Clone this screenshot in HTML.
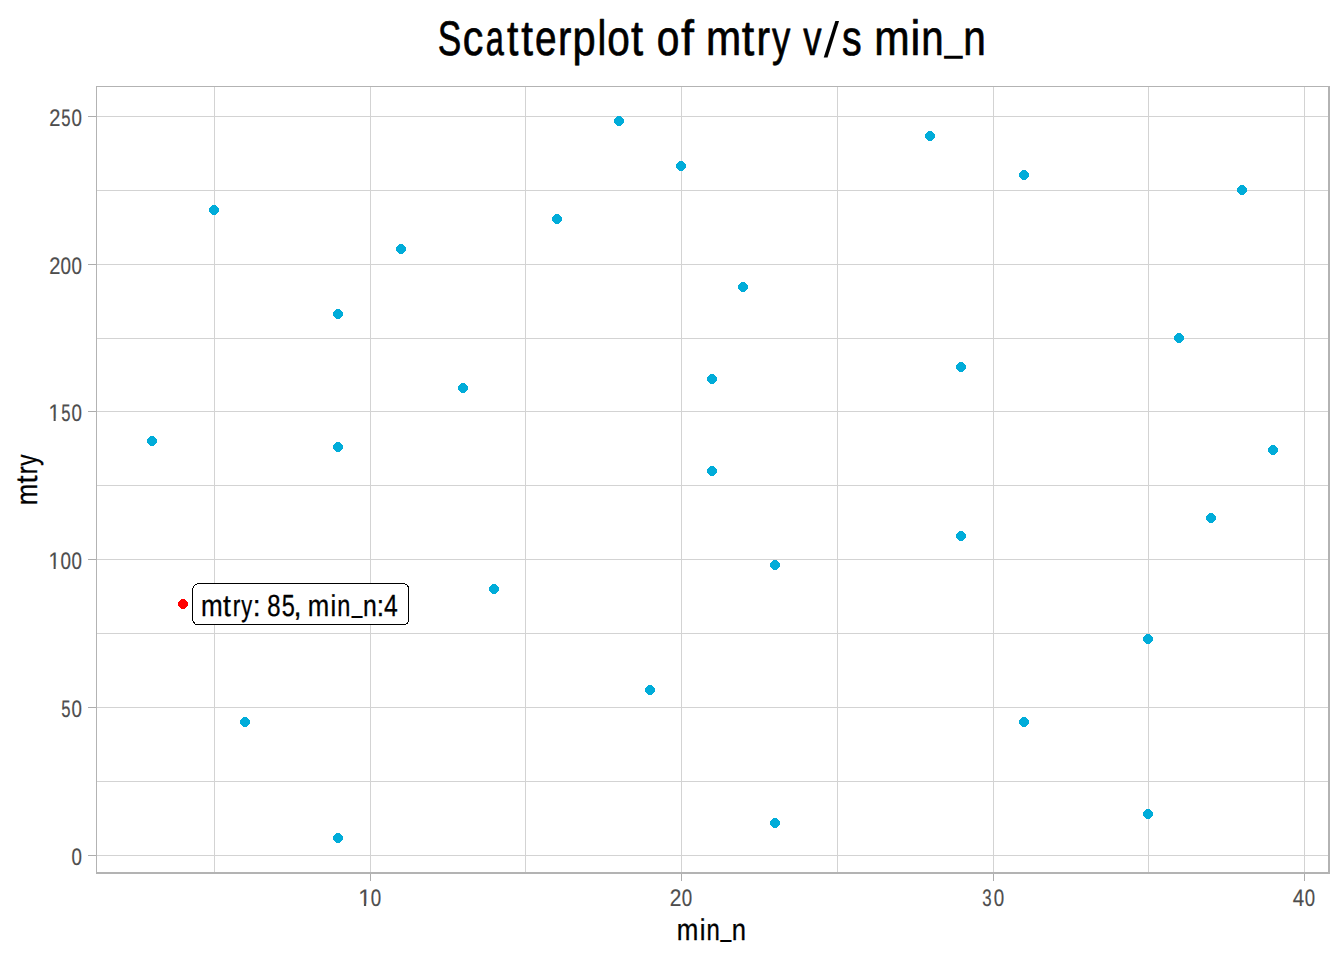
<!DOCTYPE html>
<html><head><meta charset="utf-8"><title>Scatterplot of mtry v/s min_n</title>
<style>
html,body{margin:0;padding:0;background:#fff;}
body{width:1344px;height:960px;overflow:hidden;}
svg{display:block;}
text{font-family:"Liberation Sans",sans-serif;text-rendering:geometricPrecision;}
</style></head><body>
<svg width="1344" height="960" viewBox="0 0 1344 960">
<rect width="1344" height="960" fill="#ffffff"/>
<!-- panel grid -->
<g fill="#d3d3d3" shape-rendering="crispEdges">
<rect x="97" y="116" width="1231" height="1"/>
<rect x="97" y="190" width="1231" height="1"/>
<rect x="97" y="264" width="1231" height="1"/>
<rect x="97" y="338" width="1231" height="1"/>
<rect x="97" y="411" width="1231" height="1"/>
<rect x="97" y="485" width="1231" height="1"/>
<rect x="97" y="559" width="1231" height="1"/>
<rect x="97" y="633" width="1231" height="1"/>
<rect x="97" y="707" width="1231" height="1"/>
<rect x="97" y="781" width="1231" height="1"/>
<rect x="97" y="855" width="1231" height="1"/>
<rect x="214" y="87" width="1" height="785"/>
<rect x="370" y="87" width="1" height="785"/>
<rect x="525" y="87" width="1" height="785"/>
<rect x="681" y="87" width="1" height="785"/>
<rect x="837" y="87" width="1" height="785"/>
<rect x="993" y="87" width="1" height="785"/>
<rect x="1148" y="87" width="1" height="785"/>
<rect x="1304" y="87" width="1" height="785"/>
</g>
<!-- axis ticks -->
<g fill="#adadad" shape-rendering="crispEdges">
<rect x="88" y="116" width="8" height="1"/>
<rect x="88" y="264" width="8" height="1"/>
<rect x="88" y="411" width="8" height="1"/>
<rect x="88" y="559" width="8" height="1"/>
<rect x="88" y="707" width="8" height="1"/>
<rect x="88" y="855" width="8" height="1"/>
<rect x="370" y="874" width="1" height="7"/>
<rect x="681" y="874" width="1" height="7"/>
<rect x="993" y="874" width="1" height="7"/>
<rect x="1304" y="874" width="1" height="7"/>
</g>
<!-- panel border -->
<g fill="#b3b3b3" shape-rendering="crispEdges">
<rect x="96" y="86" width="1" height="788"/>
<rect x="96" y="86" width="1234" height="1"/>
<rect x="1328" y="86" width="2" height="788"/>
<rect x="96" y="872" width="1234" height="2"/>
</g>
<!-- points -->
<g shape-rendering="crispEdges">
<path fill="#00acd9" d="M150 436h4v1h1v1h1v1h1v4h-1v1h-1v1h-1v1h-4v-1h-1v-1h-1v-1h-1v-4h1v-1h1v-1h1z"/>
<path fill="#00acd9" d="M212 205h4v1h1v1h1v1h1v4h-1v1h-1v1h-1v1h-4v-1h-1v-1h-1v-1h-1v-4h1v-1h1v-1h1z"/>
<path fill="#00acd9" d="M243 717h4v1h1v1h1v1h1v4h-1v1h-1v1h-1v1h-4v-1h-1v-1h-1v-1h-1v-4h1v-1h1v-1h1z"/>
<path fill="#00acd9" d="M336 309h4v1h1v1h1v1h1v4h-1v1h-1v1h-1v1h-4v-1h-1v-1h-1v-1h-1v-4h1v-1h1v-1h1z"/>
<path fill="#00acd9" d="M336 442h4v1h1v1h1v1h1v4h-1v1h-1v1h-1v1h-4v-1h-1v-1h-1v-1h-1v-4h1v-1h1v-1h1z"/>
<path fill="#00acd9" d="M336 833h4v1h1v1h1v1h1v4h-1v1h-1v1h-1v1h-4v-1h-1v-1h-1v-1h-1v-4h1v-1h1v-1h1z"/>
<path fill="#00acd9" d="M399 244h4v1h1v1h1v1h1v4h-1v1h-1v1h-1v1h-4v-1h-1v-1h-1v-1h-1v-4h1v-1h1v-1h1z"/>
<path fill="#00acd9" d="M461 383h4v1h1v1h1v1h1v4h-1v1h-1v1h-1v1h-4v-1h-1v-1h-1v-1h-1v-4h1v-1h1v-1h1z"/>
<path fill="#00acd9" d="M492 584h4v1h1v1h1v1h1v4h-1v1h-1v1h-1v1h-4v-1h-1v-1h-1v-1h-1v-4h1v-1h1v-1h1z"/>
<path fill="#00acd9" d="M555 214h4v1h1v1h1v1h1v4h-1v1h-1v1h-1v1h-4v-1h-1v-1h-1v-1h-1v-4h1v-1h1v-1h1z"/>
<path fill="#00acd9" d="M617 116h4v1h1v1h1v1h1v4h-1v1h-1v1h-1v1h-4v-1h-1v-1h-1v-1h-1v-4h1v-1h1v-1h1z"/>
<path fill="#00acd9" d="M648 685h4v1h1v1h1v1h1v4h-1v1h-1v1h-1v1h-4v-1h-1v-1h-1v-1h-1v-4h1v-1h1v-1h1z"/>
<path fill="#00acd9" d="M679 161h4v1h1v1h1v1h1v4h-1v1h-1v1h-1v1h-4v-1h-1v-1h-1v-1h-1v-4h1v-1h1v-1h1z"/>
<path fill="#00acd9" d="M710 374h4v1h1v1h1v1h1v4h-1v1h-1v1h-1v1h-4v-1h-1v-1h-1v-1h-1v-4h1v-1h1v-1h1z"/>
<path fill="#00acd9" d="M710 466h4v1h1v1h1v1h1v4h-1v1h-1v1h-1v1h-4v-1h-1v-1h-1v-1h-1v-4h1v-1h1v-1h1z"/>
<path fill="#00acd9" d="M741 282h4v1h1v1h1v1h1v4h-1v1h-1v1h-1v1h-4v-1h-1v-1h-1v-1h-1v-4h1v-1h1v-1h1z"/>
<path fill="#00acd9" d="M773 560h4v1h1v1h1v1h1v4h-1v1h-1v1h-1v1h-4v-1h-1v-1h-1v-1h-1v-4h1v-1h1v-1h1z"/>
<path fill="#00acd9" d="M773 818h4v1h1v1h1v1h1v4h-1v1h-1v1h-1v1h-4v-1h-1v-1h-1v-1h-1v-4h1v-1h1v-1h1z"/>
<path fill="#00acd9" d="M928 131h4v1h1v1h1v1h1v4h-1v1h-1v1h-1v1h-4v-1h-1v-1h-1v-1h-1v-4h1v-1h1v-1h1z"/>
<path fill="#00acd9" d="M959 362h4v1h1v1h1v1h1v4h-1v1h-1v1h-1v1h-4v-1h-1v-1h-1v-1h-1v-4h1v-1h1v-1h1z"/>
<path fill="#00acd9" d="M959 531h4v1h1v1h1v1h1v4h-1v1h-1v1h-1v1h-4v-1h-1v-1h-1v-1h-1v-4h1v-1h1v-1h1z"/>
<path fill="#00acd9" d="M1022 170h4v1h1v1h1v1h1v4h-1v1h-1v1h-1v1h-4v-1h-1v-1h-1v-1h-1v-4h1v-1h1v-1h1z"/>
<path fill="#00acd9" d="M1022 717h4v1h1v1h1v1h1v4h-1v1h-1v1h-1v1h-4v-1h-1v-1h-1v-1h-1v-4h1v-1h1v-1h1z"/>
<path fill="#00acd9" d="M1146 634h4v1h1v1h1v1h1v4h-1v1h-1v1h-1v1h-4v-1h-1v-1h-1v-1h-1v-4h1v-1h1v-1h1z"/>
<path fill="#00acd9" d="M1146 809h4v1h1v1h1v1h1v4h-1v1h-1v1h-1v1h-4v-1h-1v-1h-1v-1h-1v-4h1v-1h1v-1h1z"/>
<path fill="#00acd9" d="M1177 333h4v1h1v1h1v1h1v4h-1v1h-1v1h-1v1h-4v-1h-1v-1h-1v-1h-1v-4h1v-1h1v-1h1z"/>
<path fill="#00acd9" d="M1209 513h4v1h1v1h1v1h1v4h-1v1h-1v1h-1v1h-4v-1h-1v-1h-1v-1h-1v-4h1v-1h1v-1h1z"/>
<path fill="#00acd9" d="M1240 185h4v1h1v1h1v1h1v4h-1v1h-1v1h-1v1h-4v-1h-1v-1h-1v-1h-1v-4h1v-1h1v-1h1z"/>
<path fill="#00acd9" d="M1271 445h4v1h1v1h1v1h1v4h-1v1h-1v1h-1v1h-4v-1h-1v-1h-1v-1h-1v-4h1v-1h1v-1h1z"/>
<path fill="#ff0000" d="M181 599h4v1h1v1h1v1h1v4h-1v1h-1v1h-1v1h-4v-1h-1v-1h-1v-1h-1v-4h1v-1h1v-1h1z"/>
</g>
<!-- highlighted point label -->
<rect x="193" y="584" width="215" height="40" fill="#ffffff" shape-rendering="crispEdges"/>
<path fill="#000000" shape-rendering="crispEdges" d="M197 583h208v1h-208zM195 624h211v1h-211zM192 588h1v33h-1zM408 586h1v36h-1zM195 584h2v1h-2zM194 585h1v1h-1zM193 586h1v2h-1zM405 584h2v1h-2zM407 585h1v2h-1zM406 623h2v1h-2zM407 622h1v1h-1zM193 621h1v2h-1zM194 622h1v2h-1z"/>
<text y="615.9" font-size="30.2" fill="#000" stroke="#000" stroke-width="0.3" stroke-linejoin="round"><tspan x="201.11" y="615.9" textLength="21.7" lengthAdjust="spacingAndGlyphs">m</tspan><tspan x="222.95" y="615.9" textLength="7.91" lengthAdjust="spacingAndGlyphs">t</tspan><tspan x="232.65" y="615.9" textLength="7.61" lengthAdjust="spacingAndGlyphs">r</tspan><tspan x="241.13" y="615.9" textLength="10.95" lengthAdjust="spacingAndGlyphs">y</tspan><tspan x="252.81" y="615.9" textLength="7.91" lengthAdjust="spacingAndGlyphs">:</tspan> <tspan x="267.21" y="615.9" font-size="30.6" textLength="13.26" lengthAdjust="spacingAndGlyphs">8</tspan><tspan x="281.86" y="615.9" font-size="30.6" textLength="13.1" lengthAdjust="spacingAndGlyphs">5</tspan><tspan x="293.58" y="615.9" textLength="8.11" lengthAdjust="spacingAndGlyphs">,</tspan> <tspan x="307.73" y="615.9" textLength="21.44" lengthAdjust="spacingAndGlyphs">m</tspan><tspan x="330.39" y="615.9" textLength="5.73" lengthAdjust="spacingAndGlyphs">i</tspan><tspan x="337.31" y="615.9" textLength="13.11" lengthAdjust="spacingAndGlyphs">n</tspan><tspan x="351.67" y="612" stroke-width="0" textLength="10.61" lengthAdjust="spacingAndGlyphs">_</tspan><tspan x="362.91" y="615.9" textLength="13.78" lengthAdjust="spacingAndGlyphs">n</tspan><tspan x="376.87" y="615.9" textLength="7.32" lengthAdjust="spacingAndGlyphs">:</tspan><tspan x="383.91" y="615.9" font-size="30.6" textLength="13.74" lengthAdjust="spacingAndGlyphs">4</tspan></text>
<!-- title -->
<text y="55" font-size="49.5" fill="#000" stroke="#000" stroke-width="0.7" stroke-linejoin="round"><tspan x="437.63" y="55" font-size="48.5" textLength="23.53" lengthAdjust="spacingAndGlyphs">S</tspan><tspan x="462.63" y="55" textLength="20.57" lengthAdjust="spacingAndGlyphs">c</tspan><tspan x="485.86" y="55" textLength="18.09" lengthAdjust="spacingAndGlyphs">a</tspan><tspan x="506.97" y="55" textLength="11.35" lengthAdjust="spacingAndGlyphs">t</tspan><tspan x="521.37" y="55" textLength="11.74" lengthAdjust="spacingAndGlyphs">t</tspan><tspan x="535.05" y="55" textLength="21.55" lengthAdjust="spacingAndGlyphs">e</tspan><tspan x="558.07" y="55" textLength="13.38" lengthAdjust="spacingAndGlyphs">r</tspan><tspan x="572.59" y="55" textLength="23.15" lengthAdjust="spacingAndGlyphs">p</tspan><tspan x="597.62" y="55" textLength="8.81" lengthAdjust="spacingAndGlyphs">l</tspan><tspan x="607.36" y="55" textLength="22.53" lengthAdjust="spacingAndGlyphs">o</tspan><tspan x="631.12" y="55" textLength="12.09" lengthAdjust="spacingAndGlyphs">t</tspan> <tspan x="656.68" y="55" textLength="22.65" lengthAdjust="spacingAndGlyphs">o</tspan><tspan x="680.97" y="55" textLength="12.9" lengthAdjust="spacingAndGlyphs">f</tspan> <tspan x="706.12" y="55" textLength="35.2" lengthAdjust="spacingAndGlyphs">m</tspan><tspan x="741.81" y="55" textLength="12.49" lengthAdjust="spacingAndGlyphs">t</tspan><tspan x="756.44" y="55" textLength="13.58" lengthAdjust="spacingAndGlyphs">r</tspan><tspan x="771.93" y="55" textLength="18.33" lengthAdjust="spacingAndGlyphs">y</tspan> <tspan x="803.31" y="55" textLength="18.27" lengthAdjust="spacingAndGlyphs">v</tspan></text>
<text transform="translate(823.75,57.1) skewX(-2.98) scale(0.484,0.4966)" x="0" y="0" font-size="100" fill="#000">/</text>
<text y="55" font-size="49.5" fill="#000" stroke="#000" stroke-width="0.7" stroke-linejoin="round"><tspan x="842.09" y="55" textLength="19.66" lengthAdjust="spacingAndGlyphs">s</tspan> <tspan x="874.2" y="55" textLength="35.39" lengthAdjust="spacingAndGlyphs">m</tspan><tspan x="910.57" y="55" textLength="9.82" lengthAdjust="spacingAndGlyphs">i</tspan><tspan x="921.13" y="55" textLength="22.36" lengthAdjust="spacingAndGlyphs">n</tspan><tspan x="944.52" y="49" stroke-width="0" textLength="17.91" lengthAdjust="spacingAndGlyphs">_</tspan><tspan x="963.14" y="55" textLength="22.53" lengthAdjust="spacingAndGlyphs">n</tspan></text>
<!-- axis titles -->
<text y="939.8" font-size="30.2" fill="#000" stroke="#000" stroke-width="0.3" stroke-linejoin="round"><tspan x="676.86" y="939.8" textLength="21.59" lengthAdjust="spacingAndGlyphs">m</tspan><tspan x="699.7" y="939.8" textLength="5.77" lengthAdjust="spacingAndGlyphs">i</tspan><tspan x="706.47" y="939.8" textLength="13.3" lengthAdjust="spacingAndGlyphs">n</tspan><tspan x="720.56" y="936" stroke-width="0" textLength="10.77" lengthAdjust="spacingAndGlyphs">_</tspan><tspan x="731.7" y="939.8" textLength="14.22" lengthAdjust="spacingAndGlyphs">n</tspan></text>
<text transform="translate(37.1,504) rotate(-90)" font-size="30.2" fill="#000" stroke="#000" stroke-width="0.3" stroke-linejoin="round"><tspan x="-1.32" y="0" textLength="21.54" lengthAdjust="spacingAndGlyphs">m</tspan><tspan x="20.39" y="0" textLength="7.97" lengthAdjust="spacingAndGlyphs">t</tspan><tspan x="29.81" y="0" textLength="7.98" lengthAdjust="spacingAndGlyphs">r</tspan><tspan x="38.29" y="0" textLength="11.25" lengthAdjust="spacingAndGlyphs">y</tspan></text>
<!-- tick labels -->
<text y="125.6" font-size="24" fill="#4d4d4d" stroke="#4d4d4d" stroke-width="0.2" stroke-linejoin="round"><tspan x="49.14" y="125.6" textLength="11.14" lengthAdjust="spacingAndGlyphs">2</tspan><tspan x="61.13" y="125.6" textLength="9.26" lengthAdjust="spacingAndGlyphs">5</tspan><tspan x="71.52" y="125.6" textLength="10.4" lengthAdjust="spacingAndGlyphs">0</tspan></text>
<text y="273.6" font-size="24" fill="#4d4d4d" stroke="#4d4d4d" stroke-width="0.2" stroke-linejoin="round"><tspan x="49.14" y="273.6" textLength="11.14" lengthAdjust="spacingAndGlyphs">2</tspan><tspan x="60.41" y="273.6" textLength="10.49" lengthAdjust="spacingAndGlyphs">0</tspan><tspan x="71.52" y="273.6" textLength="10.4" lengthAdjust="spacingAndGlyphs">0</tspan></text>
<text y="420.6" font-size="24" fill="#4d4d4d" stroke="#4d4d4d" stroke-width="0.2" stroke-linejoin="round"><tspan x="48.48" y="420.6" textLength="11.59" lengthAdjust="spacingAndGlyphs">1</tspan><tspan x="61.13" y="420.6" textLength="9.26" lengthAdjust="spacingAndGlyphs">5</tspan><tspan x="71.52" y="420.6" textLength="10.4" lengthAdjust="spacingAndGlyphs">0</tspan></text>
<text y="568.6" font-size="24" fill="#4d4d4d" stroke="#4d4d4d" stroke-width="0.2" stroke-linejoin="round"><tspan x="48.48" y="568.6" textLength="11.59" lengthAdjust="spacingAndGlyphs">1</tspan><tspan x="60.41" y="568.6" textLength="10.49" lengthAdjust="spacingAndGlyphs">0</tspan><tspan x="71.52" y="568.6" textLength="10.4" lengthAdjust="spacingAndGlyphs">0</tspan></text>
<text y="716.6" font-size="24" fill="#4d4d4d" stroke="#4d4d4d" stroke-width="0.2" stroke-linejoin="round"><tspan x="61.13" y="716.6" textLength="9.26" lengthAdjust="spacingAndGlyphs">5</tspan><tspan x="71.52" y="716.6" textLength="10.4" lengthAdjust="spacingAndGlyphs">0</tspan></text>
<text y="864.6" font-size="24" fill="#4d4d4d" stroke="#4d4d4d" stroke-width="0.2" stroke-linejoin="round"><tspan x="71.52" y="864.6" textLength="10.4" lengthAdjust="spacingAndGlyphs">0</tspan></text>
<text y="905.8" font-size="24" fill="#4d4d4d" stroke="#4d4d4d" stroke-width="0.2" stroke-linejoin="round"><tspan x="358.19" y="905.8" textLength="12.88" lengthAdjust="spacingAndGlyphs">1</tspan><tspan x="370.74" y="905.8" textLength="10.42" lengthAdjust="spacingAndGlyphs">0</tspan></text>
<text y="905.8" font-size="24" fill="#4d4d4d" stroke="#4d4d4d" stroke-width="0.2" stroke-linejoin="round"><tspan x="669.72" y="905.8" textLength="11.63" lengthAdjust="spacingAndGlyphs">2</tspan><tspan x="681.74" y="905.8" textLength="10.42" lengthAdjust="spacingAndGlyphs">0</tspan></text>
<text y="905.8" font-size="24" fill="#4d4d4d" stroke="#4d4d4d" stroke-width="0.2" stroke-linejoin="round"><tspan x="982.13" y="905.8" textLength="9.38" lengthAdjust="spacingAndGlyphs">3</tspan><tspan x="993.74" y="905.8" textLength="10.42" lengthAdjust="spacingAndGlyphs">0</tspan></text>
<text y="905.8" font-size="24" fill="#4d4d4d" stroke="#4d4d4d" stroke-width="0.2" stroke-linejoin="round"><tspan x="1292.78" y="905.8" textLength="11.44" lengthAdjust="spacingAndGlyphs">4</tspan><tspan x="1304.79" y="905.8" textLength="10.32" lengthAdjust="spacingAndGlyphs">0</tspan></text>
<path fill="#ffffff" d="M48.27 418.76h5.35v2.89h-5.35zM55.66 418.76h5.29v2.89h-5.29zM48.27 566.76h5.35v2.89h-5.35zM55.66 566.76h5.29v2.89h-5.29zM358.15 903.76h5.76v2.89h-5.76zM366.16 903.76h5.68v2.89h-5.68z"/>
</svg></body></html>
